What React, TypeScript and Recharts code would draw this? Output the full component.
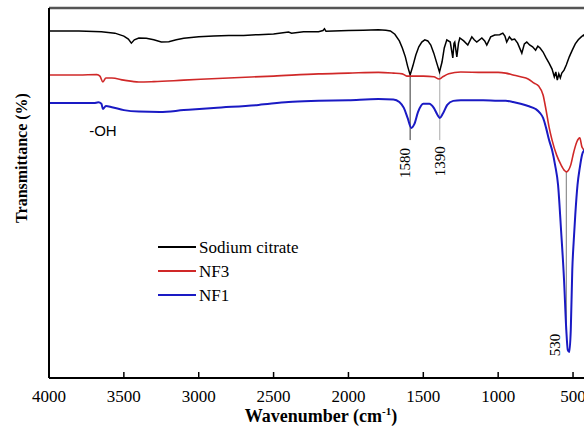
import React from 'react';
import { LineChart, Line, XAxis, YAxis, ReferenceLine, ReferenceDot, Legend } from 'recharts';

const SERIF = "'Liberation Serif', 'Times New Roman', Times, serif";
const SANS = "'Liberation Sans', Arial, sans-serif";

const seriesNames = ['Sodium citrate', 'NF3', 'NF1'];
const seriesColors = ['#000000', '#d02828', '#1a1ac4'];
const seriesWidths = [1.5, 1.6, 2];

const xTicks = [4000, 3500, 3000, 2500, 2000, 1500, 1000, 500];

const citrateWn = [4000, 3800, 3650, 3560, 3500, 3470, 3450, 3430, 3400, 3350, 3300, 3250, 3200, 3150, 3100, 3000, 2900, 2800, 2700, 2600, 2500, 2400, 2380, 2300, 2200, 2170, 2160, 2150, 2100, 2000, 1900, 1800, 1750, 1720, 1690, 1660, 1640, 1620, 1605, 1588, 1570, 1550, 1530, 1510, 1490, 1470, 1450, 1430, 1410, 1392, 1375, 1360, 1343, 1320, 1303, 1295, 1290, 1276, 1265, 1256, 1230, 1203, 1176, 1160, 1143, 1109, 1090, 1076, 1050, 1023, 990, 969, 955, 943, 925, 909, 890, 870, 842, 825, 809, 790, 770, 750, 735, 720, 700, 680, 660, 640, 625, 615, 605, 595, 585, 575, 560, 545, 525, 505, 485, 465, 445, 430, 415, 400];
const citrateT = [93.8, 93.8, 93.6, 93.2, 92.4, 91.6, 90.5, 91.4, 91.9, 91.8, 91.4, 90.8, 90.9, 91.4, 91.8, 92.2, 92.4, 92.6, 92.6, 92.8, 93.0, 93.5, 93.2, 93.6, 93.6, 93.9, 94.4, 93.7, 93.8, 93.9, 94.0, 94.1, 94.0, 93.8, 92.9, 91.1, 89.2, 86.8, 84.3, 81.9, 84.3, 87.3, 89.5, 90.8, 91.4, 91.1, 90.0, 87.8, 85.1, 82.7, 85.4, 89.2, 91.4, 90.8, 86.5, 90.5, 90.8, 86.8, 90.5, 91.9, 91.1, 90.0, 92.2, 91.4, 90.8, 91.9, 91.1, 90.0, 92.2, 92.7, 92.8, 93.2, 92.4, 90.8, 92.2, 91.4, 91.6, 90.5, 87.8, 90.3, 90.8, 90.0, 89.5, 88.6, 89.7, 89.2, 88.1, 86.5, 85.1, 83.5, 81.4, 82.7, 80.5, 82.2, 81.1, 82.4, 83.2, 84.6, 86.8, 88.6, 90.3, 91.4, 92.2, 92.7, 91.9, 92.2];

const nf3Wn = [4000, 3800, 3680, 3660, 3640, 3620, 3580, 3500, 3400, 3300, 3100, 2800, 2500, 2200, 2000, 1800, 1700, 1640, 1610, 1570, 1500, 1430, 1395, 1370, 1330, 1250, 1100, 1000, 950, 900, 850, 800, 760, 730, 700, 680, 660, 640, 610, 580, 555, 545, 530, 515, 495, 475, 455, 440, 420, 400];
const nf3T = [81.9, 81.9, 82.0, 81.6, 80.0, 81.1, 81.1, 80.5, 80.0, 80.1, 80.5, 81.1, 81.6, 82.2, 82.4, 82.6, 82.4, 82.2, 81.6, 81.6, 81.6, 81.4, 80.8, 81.4, 82.2, 82.7, 82.6, 82.6, 82.4, 81.9, 81.4, 80.8, 79.7, 78.9, 76.5, 72.4, 67.8, 64.3, 60.3, 57.6, 56.0, 55.7, 56.2, 57.6, 61.1, 63.8, 64.9, 62.4, 61.6, 62.2];

const nf1Wn = [4000, 3700, 3670, 3650, 3640, 3620, 3580, 3500, 3400, 3260, 3100, 2900, 2600, 2400, 2200, 2000, 1800, 1700, 1660, 1630, 1605, 1580, 1560, 1535, 1500, 1460, 1430, 1405, 1390, 1370, 1340, 1300, 1250, 1100, 1000, 950, 900, 850, 800, 750, 720, 700, 680, 660, 640, 620, 600, 580, 560, 545, 535, 525, 515, 505, 495, 485, 470, 455, 440, 425, 400];
const nf1T = [74.3, 74.3, 74.5, 74.1, 72.7, 73.5, 73.2, 72.4, 72.0, 71.9, 72.4, 73.0, 73.8, 74.6, 74.9, 75.1, 75.4, 75.3, 74.6, 73.0, 70.3, 67.6, 68.6, 71.9, 74.1, 74.1, 73.0, 71.1, 70.3, 71.4, 73.8, 74.9, 75.1, 75.1, 74.9, 74.9, 74.6, 74.1, 73.5, 72.7, 71.6, 70.3, 67.6, 64.3, 61.6, 57.6, 52.2, 40.0, 26.5, 13.0, 7.6, 7.0, 13.0, 29.2, 37.3, 44.1, 52.2, 56.8, 60.3, 61.6, 62.2];

const toRows = (wn: number[], t: number[]) => wn.map((w, i) => ({ wn: w, t: t[i] }));
const seriesData = [toRows(citrateWn, citrateT), toRows(nf3Wn, nf3T), toRows(nf1Wn, nf1T)];

const XTick = (props: any) => {
  const { x, y, payload } = props;
  return (
    <g>
      <line x1={x} x2={x} y1={y} y2={y - 6} stroke="#000" strokeWidth={1.5} />
      <text x={x} y={y + 24} textAnchor="middle" fontFamily={SERIF} fontSize={17} fill="#000">
        {payload.value}
      </text>
    </g>
  );
};

const rotatedLabel = (text: string) => (p: any) => (
  <text
    x={p.cx}
    y={p.cy}
    transform={`rotate(-90, ${p.cx}, ${p.cy})`}
    textAnchor="middle"
    dominantBaseline="central"
    fontFamily={SERIF}
    fontSize={15}
    fill="#000"
  >
    {text}
  </text>
);

const plainLabel = (text: string) => (p: any) => (
  <text x={p.cx} y={p.cy} textAnchor="middle" dominantBaseline="central" fontFamily={SANS} fontSize={15} fill="#000">
    {text}
  </text>
);

const renderLegend = () => (
  <svg width={200} height={72} style={{ display: 'block' }}>
    {seriesNames.map((n, i) => (
      <g key={n}>
        <line x1={0} x2={38} y1={12 + i * 24} y2={12 + i * 24} stroke={seriesColors[i]} strokeWidth={2} />
        <text x={41} y={12 + i * 24} dominantBaseline="central" fontFamily={SERIF} fontSize={17} fill="#000">
          {n}
        </text>
      </g>
    ))}
  </svg>
);

export default function App() {
  return (
    <div style={{ position: 'fixed', left: 0, top: 0, width: 584, height: 429, overflow: 'hidden', background: '#fff' }}>
      <LineChart width={600} height={429} margin={{ top: 8, right: 12, bottom: 0, left: 0 }}>
        <XAxis
          dataKey="wn"
          type="number"
          domain={[400, 4000]}
          reversed
          ticks={xTicks}
          interval={0}
          height={51}
          tickSize={0}
          tickMargin={0}
          tickLine={false}
          axisLine={{ stroke: '#000', strokeWidth: 2 }}
          tick={<XTick />}
          allowDataOverflow
          label={() => (
            <text x={321} y={422} textAnchor="middle" fontFamily={SERIF} fontWeight="bold" fontSize={18} fill="#000">
              Wavenumber (cm<tspan dy={-7} fontSize={11}>-1</tspan><tspan dy={7}>)</tspan>
            </text>
          )}
        />
        <YAxis
          type="number"
          domain={[0, 100]}
          width={49}
          tick={false}
          tickLine={false}
          axisLine={{ stroke: '#000', strokeWidth: 2 }}
          label={() => (
            <text
              transform="translate(21,158) rotate(-90)"
              textAnchor="middle"
              dominantBaseline="central"
              fontFamily={SERIF}
              fontWeight="bold"
              fontSize={16}
              fill="#000"
            >
              Transmittance (%)
            </text>
          )}
        />
        <ReferenceLine y={100} stroke="#555" strokeWidth={2.5} />
        <ReferenceLine segment={[{ x: 1588, y: 81.9 }, { x: 1588, y: 64.3 }]} stroke="#333" strokeWidth={1} />
        <ReferenceLine segment={[{ x: 1390, y: 82.7 }, { x: 1390, y: 64.3 }]} stroke="#aaa" strokeWidth={1} />
        <ReferenceLine segment={[{ x: 545, y: 55.7 }, { x: 545, y: 13.0 }]} stroke="#777" strokeWidth={1} />
        {seriesNames.map((n, i) => (
          <Line
            key={n}
            data={seriesData[i]}
            dataKey="t"
            name={n}
            type={i === 0 ? 'linear' : 'monotone'}
            stroke={seriesColors[i]}
            strokeWidth={seriesWidths[i]}
            dot={false}
            activeDot={false}
            isAnimationActive={false}
          />
        ))}
        <ReferenceDot x={1624} y={58.1} r={0} shape={rotatedLabel('1580')} />
        <ReferenceDot x={1390} y={58.6} r={0} shape={rotatedLabel('1390')} />
        <ReferenceDot x={622} y={8.9} r={0} shape={rotatedLabel('530')} />
        <ReferenceDot x={3640} y={66.8} r={0} shape={plainLabel('-OH')} />
        <Legend
          layout="vertical"
          align="center"
          verticalAlign="middle"
          wrapperStyle={{ left: 158, top: 235, width: 200, height: 72 }}
          content={renderLegend}
        />
      </LineChart>
    </div>
  );
}
